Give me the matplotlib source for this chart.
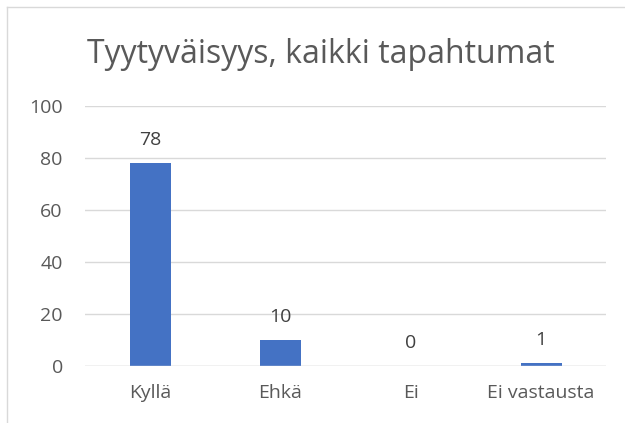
import matplotlib
matplotlib.use("Agg")
from matplotlib import pyplot as plt
from matplotlib.lines import Line2D

categories = ["Kyllä", "Ehkä", "Ei", "Ei vastausta"]
values = [78, 10, 0, 1]
yticks = [0, 20, 40, 60, 80, 100]
title = "Tyytyväisyys, kaikki tapahtumat"

grey = "#595959"
plt.rcParams['font.family'] = ['Open Sans', 'DejaVu Sans']

fig = plt.figure(figsize=(6.25, 4.23), dpi=100)
ax = fig.add_axes([0.136, 0.135, 0.834, 0.614])

x = range(len(categories))
bars = ax.bar(x, values, width=0.315, color="#4472C4", zorder=3)
for b, v in zip(bars, values):
    ax.annotate(str(v), (b.get_x() + b.get_width() / 2, v),
                xytext=(0, 10), textcoords="offset points",
                ha="center", va="bottom", fontsize=14, color="#404040")

ax.set_xlim(-0.5, len(categories) - 0.5)
ax.set_ylim(0, 100)
ax.set_yticks(yticks)
ax.set_xticks(list(x))
ax.set_xticklabels(categories)
ax.tick_params(axis="both", length=0, colors=grey, labelsize=14)
ax.tick_params(axis="x", pad=13)
ax.tick_params(axis="y", pad=16)
ax.grid(axis="y", color="#D9D9D9", linewidth=1, zorder=0)
for s in ax.spines.values():
    s.set_visible(False)
ax.axhline(0, color="#D9D9D9", linewidth=1, zorder=4)

fig.text(0.513, 0.872, title, ha="center", va="center", fontsize=23, color=grey)

# chart border
w, h = 625, 423
fig.add_artist(Line2D([7 / w, 7 / w], [0, 1 - 7 / h], color="#D9D9D9", lw=1))
fig.add_artist(Line2D([7 / w, 1], [1 - 7 / h, 1 - 7 / h], color="#D9D9D9", lw=1))

fig.savefig("out.png", dpi=100)
